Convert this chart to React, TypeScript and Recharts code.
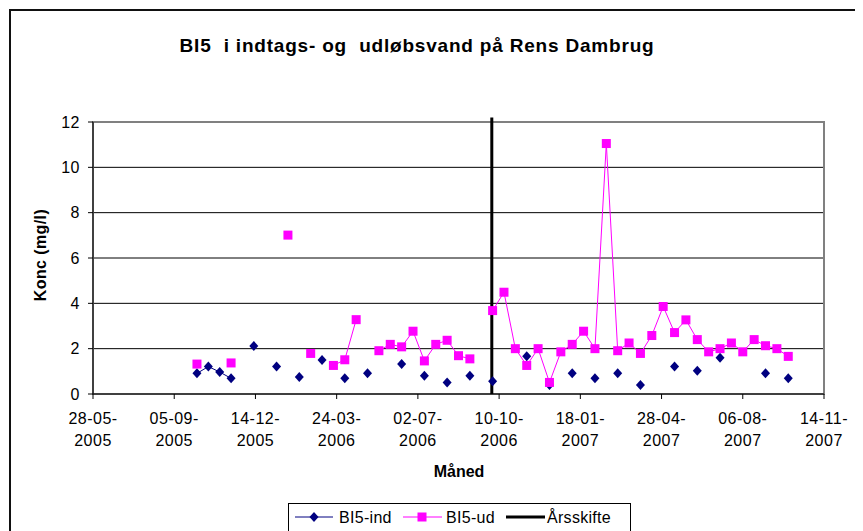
import { ComposedChart, Line, XAxis, YAxis, CartesianGrid, ReferenceLine, ReferenceArea } from 'recharts';

// sample dates (every second Monday)
const sampleDates = [
  '2005-10-03', '2005-10-17', '2005-10-31', '2005-11-14', '2005-11-28', '2005-12-12', '2005-12-26',
  '2006-01-09', '2006-01-23', '2006-02-06', '2006-02-20', '2006-03-06', '2006-03-20', '2006-04-03',
  '2006-04-17', '2006-05-01', '2006-05-15', '2006-05-29', '2006-06-12', '2006-06-26', '2006-07-10',
  '2006-07-24', '2006-08-07', '2006-08-21', '2006-09-04', '2006-09-18', '2006-10-02', '2006-10-16',
  '2006-10-30', '2006-11-13', '2006-11-27', '2006-12-11', '2006-12-25', '2007-01-08', '2007-01-22',
  '2007-02-05', '2007-02-19', '2007-03-05', '2007-03-19', '2007-04-02', '2007-04-16', '2007-04-30',
  '2007-05-14', '2007-05-28', '2007-06-11', '2007-06-25', '2007-07-09', '2007-07-23', '2007-08-06',
  '2007-08-20', '2007-09-03', '2007-09-17', '2007-10-01',
];

const bi5Ind: (number | null)[] = [
  0.91, 1.21, 0.97, 0.69, null, 2.12, null,
  1.21, null, 0.75, null, 1.5, null, 0.69,
  null, 0.91, null, null, 1.32, null, 0.81,
  null, 0.51, null, 0.81, null, 0.56, null,
  null, 1.66, null, 0.4, null, 0.91, null,
  0.69, null, 0.91, null, 0.4, null, null,
  1.21, null, 1.03, null, 1.6, null, null,
  null, 0.91, null, 0.69,
];

const bi5Ud: (number | null)[] = [
  1.32, null, null, 1.37, null, null, null,
  null, 7.01, null, 1.79, null, 1.26, 1.51,
  3.28, null, 1.91, 2.19, 2.08, 2.77, 1.46,
  2.19, 2.37, 1.69, 1.55, null, 3.68, 4.49,
  2.0, 1.26, 2.0, 0.51, 1.86, 2.19, 2.77,
  2.0, 11.05, 1.91, 2.25, 1.79, 2.58, 3.86,
  2.71, 3.27, 2.4, 1.86, 2.0, 2.25, 1.86,
  2.4, 2.13, 2.0, 1.66,
];

const yearChange = '2006-10-01';

const xTickDates = [
  '2005-05-28', '2005-09-05', '2005-12-14', '2006-03-24', '2006-07-02',
  '2006-10-10', '2007-01-18', '2007-04-28', '2007-08-06', '2007-11-14',
];
const yTicks = [0, 2, 4, 6, 8, 10, 12];

// excel style day serial
const toSerial = (iso: string) => {
  const [y, m, d] = iso.split('-').map(Number);
  return Date.UTC(y, m - 1, d) / 86400000 + 25569;
};

const fromSerial = (s: number) => {
  const dt = new Date((s - 25569) * 86400000);
  const dd = String(dt.getUTCDate()).padStart(2, '0');
  const mm = String(dt.getUTCMonth() + 1).padStart(2, '0');
  return { top: `${dd}-${mm}-`, bottom: String(dt.getUTCFullYear()) };
};

const data = sampleDates.map((d, i) => ({ t: toSerial(d), ind: bi5Ind[i], ud: bi5Ud[i] }));
const xTicks = xTickDates.map(toSerial);
const yc = toSerial(yearChange);

const FONT = '"Liberation Sans", Arial, sans-serif';
const IND_COLOR = '#000080';
const UD_COLOR = '#FF00FF';

const Diamond = (props: any) => {
  const { cx, cy, index } = props;
  if (cx == null || cy == null) return <g key={`di${index}`} />;
  return (
    <polygon
      key={`di${index}`}
      points={`${cx},${cy - 5} ${cx + 4.5},${cy} ${cx},${cy + 5} ${cx - 4.5},${cy}`}
      fill={IND_COLOR}
    />
  );
};

const Square = (props: any) => {
  const { cx, cy, index } = props;
  if (cx == null || cy == null) return <g key={`sq${index}`} />;
  return <rect key={`sq${index}`} x={cx - 4.5} y={cy - 4.5} width={9} height={9} fill={UD_COLOR} />;
};

const DateTick = (props: any) => {
  const { x, y, payload } = props;
  const lbl = fromSerial(payload.value);
  return (
    <text x={x} y={y} textAnchor='middle' fill='#000' fontSize={16} letterSpacing={0.5} fontFamily={FONT}>
      <tspan x={x} dy={23}>{lbl.top}</tspan>
      <tspan x={x} dy={22}>{lbl.bottom}</tspan>
    </text>
  );
};

const App = () => {
  return (
    <div style={{ position: 'relative', width: 855, height: 523, overflow: 'hidden', fontFamily: FONT }}>
      <div
        style={{
          position: 'absolute',
          left: 1,
          top: 1,
          width: 900,
          height: 600,
          borderTop: '2px solid #111',
          borderLeft: '2px solid #111',
        }}
      />
      <ComposedChart
        width={855}
        height={523}
        data={data}
        margin={{ top: 114, right: 39, left: 0, bottom: 0 }}
        style={{ position: 'absolute', left: 0, top: 0 }}
      >
        <CartesianGrid vertical={false} stroke='#000' strokeWidth={1} />
        <ReferenceArea x1={xTicks[0]} x2={xTicks[xTicks.length - 1]} y1={0} y2={12} fill='none' stroke='#808080' strokeWidth={2} />
        <XAxis
          dataKey='t'
          type='number'
          domain={[xTicks[0], xTicks[xTicks.length - 1]]}
          ticks={xTicks}
          height={137}
          tickSize={5}
          tick={<DateTick />}
          axisLine={{ stroke: '#000' }}
          tickLine={{ stroke: '#000' }}
          label={{
            content: () => (
              <text x={451} y={469} textAnchor='middle' fontSize={16} fontWeight='bold' fontFamily={FONT} fill='#000'>
                Måned
              </text>
            ),
          }}
        />
        <YAxis
          type='number'
          domain={[0, 12]}
          ticks={yTicks}
          width={85}
          tickSize={5}
          tickMargin={8}
          tick={{ fill: '#000', fontSize: 16, fontFamily: FONT, letterSpacing: 0.5 }}
          axisLine={{ stroke: '#000' }}
          tickLine={{ stroke: '#000' }}
          label={{
            content: () => (
              <text
                x={32}
                y={247}
                transform='rotate(-90 32 247)'
                textAnchor='middle'
                dominantBaseline='central'
                fontSize={16}
                fontWeight='bold'
                letterSpacing={0.4}
                fontFamily={FONT}
                fill='#000'
              >
                Konc (mg/l)
              </text>
            ),
          }}
        />
        <ReferenceLine
          segment={[{ x: yc, y: 0 }, { x: yc, y: 12.2 }]}
          stroke='#000'
          strokeWidth={3}
          ifOverflow='visible'
        />
        <Line
          type='linear'
          dataKey='ind'
          stroke={IND_COLOR}
          strokeWidth={1}
          dot={Diamond}
          activeDot={false}
          isAnimationActive={false}
        />
        <Line
          type='linear'
          dataKey='ud'
          stroke={UD_COLOR}
          strokeWidth={1}
          dot={Square}
          activeDot={false}
          isAnimationActive={false}
        />
      </ComposedChart>
      <svg width={855} height={523} style={{ position: 'absolute', left: 0, top: 0, pointerEvents: 'none' }}>
        <text
          x={409}
          y={44}
          textAnchor='middle'
          fontSize={19}
          fontWeight='bold'
          letterSpacing={0.8}
          fontFamily={FONT}
          fill='#000'
          style={{ whiteSpace: 'pre' }}
        >
          {'BI5  i indtags- og  udløbsvand på Rens Dambrug'}
        </text>
        <g transform='translate(280,495)'>
          <rect x={0.5} y={0.5} width={342} height={60} fill='#fff' stroke='#000' />
          <line x1={7} x2={45} y1={14} y2={14} stroke={IND_COLOR} />
          <polygon points='26,9 30.5,14 26,19 21.5,14' fill={IND_COLOR} />
          <text x={51} y={20} fontSize={16} letterSpacing={0.3} fontFamily={FONT} fill='#000'>BI5-ind</text>
          <line x1={115} x2={154} y1={14} y2={14} stroke={UD_COLOR} />
          <rect x={129.5} y={9.5} width={9} height={9} fill={UD_COLOR} />
          <text x={158} y={20} fontSize={16} letterSpacing={0.3} fontFamily={FONT} fill='#000'>BI5-ud</text>
          <line x1={218} x2={257} y1={14} y2={14} stroke='#000' strokeWidth={3} />
          <text x={259} y={20} fontSize={16} letterSpacing={0.3} fontFamily={FONT} fill='#000'>Årsskifte</text>
        </g>
      </svg>
    </div>
  );
};

export default App;
